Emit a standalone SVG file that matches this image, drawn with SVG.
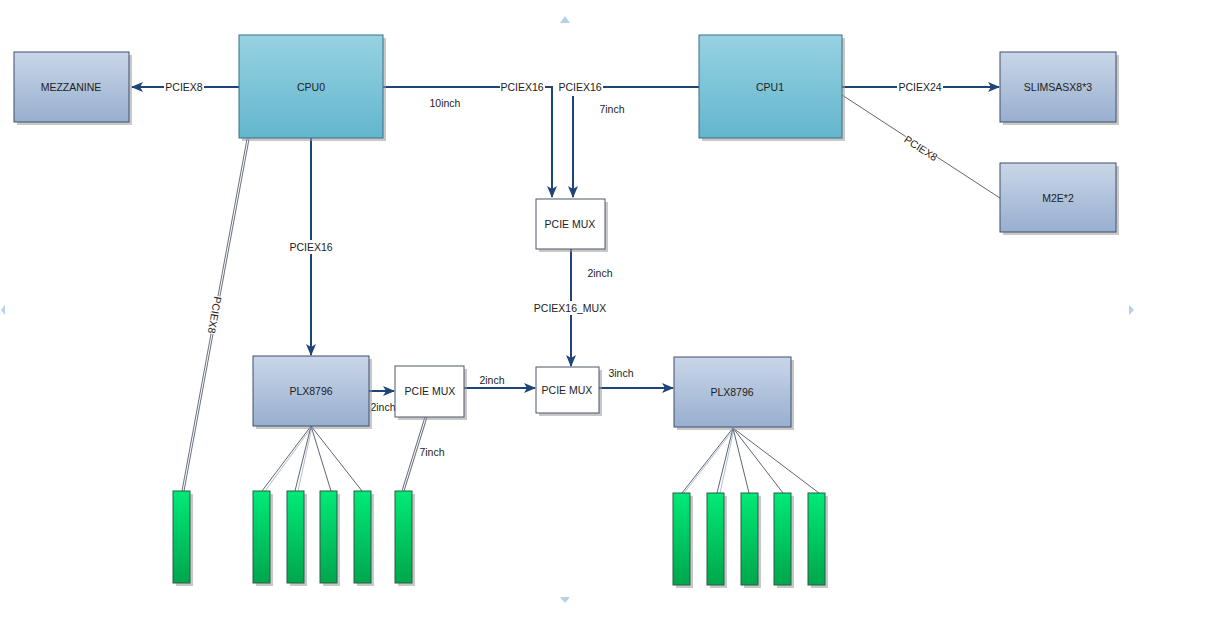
<svg xmlns="http://www.w3.org/2000/svg" width="1230" height="620" viewBox="0 0 1230 620">
<defs>
<linearGradient id="gCpu" x1="0" y1="0" x2="0" y2="1"><stop offset="0" stop-color="#97d2e2"/><stop offset="1" stop-color="#63b6cd"/></linearGradient>
<linearGradient id="gBox" x1="0" y1="0" x2="0" y2="1"><stop offset="0" stop-color="#c9d6e8"/><stop offset="1" stop-color="#98afcf"/></linearGradient>
<linearGradient id="gSlot" x1="0" y1="0" x2="0" y2="1"><stop offset="0" stop-color="#00ea78"/><stop offset="1" stop-color="#00a64c"/></linearGradient>
<marker id="arr" markerUnits="userSpaceOnUse" markerWidth="12" markerHeight="10" refX="11" refY="5" orient="auto"><path d="M0,0 L12,5 L0,10 L3,5 Z" fill="#1f4477"/></marker>
<style>
.cpu{fill:url(#gCpu);stroke:#3b6f86;stroke-width:1}
.box{fill:url(#gBox);stroke:#3e4f6c;stroke-width:1}
.mux{fill:#ffffff;stroke:#4a5567;stroke-width:1}
.slot{fill:url(#gSlot);stroke:#2d5a44;stroke-width:1}
.sh{fill:#9a9a9a;opacity:0.55}
.t{font-family:"Liberation Sans",Arial,sans-serif;font-size:10.5px;fill:#222;text-anchor:middle}
.c{fill:none;stroke:#1f4477;stroke-width:2}
.thin{fill:none;stroke:#5d6675;stroke-width:1}
.dbl{fill:none;stroke:#6b7380;stroke-width:3}
.dbli{fill:none;stroke:#ffffff;stroke-width:1}
.lite{fill:none;stroke:#b7bfca;stroke-width:1}
.bg{fill:#ffffff}
.mk{fill:#b4d0ea}
</style>
</defs>

<g id="page-markers">
<path class="mk" d="M560,23 L565,16 L570,23 Z"/>
<path class="mk" d="M560,597 L565,603 L570,597 Z"/>
<path class="mk" d="M5,305 L1,310 L5,315 Z"/>
<path class="mk" d="M1129,305 L1134,310 L1129,315 Z"/>
</g>

<g id="connectors">
<line class="c" x1="239" y1="87" x2="132" y2="87" marker-end="url(#arr)"/>
<path class="c" d="M383,87 H552 V197" marker-end="url(#arr)"/>
<path class="c" d="M699,87 H573 V197" marker-end="url(#arr)"/>
<line class="c" x1="311" y1="138" x2="311" y2="355" marker-end="url(#arr)"/>
<line class="c" x1="842" y1="87" x2="999" y2="87" marker-end="url(#arr)"/>
<line class="thin" x1="842" y1="95" x2="1003" y2="200"/>
<line class="c" x1="571" y1="249" x2="571" y2="366" marker-end="url(#arr)"/>
<line class="c" x1="369" y1="391" x2="394" y2="391" marker-end="url(#arr)"/>
<line class="c" x1="464" y1="388" x2="535" y2="388" marker-end="url(#arr)"/>
<line class="c" x1="599" y1="388" x2="673" y2="388" marker-end="url(#arr)"/>
<line class="dbl" x1="248" y1="139" x2="183" y2="491"/>
<line class="dbli" x1="248" y1="139" x2="183" y2="491"/>
<line class="dbl" x1="426" y1="417" x2="403" y2="491"/>
<line class="dbli" x1="426" y1="417" x2="403" y2="491"/>
<g>
<line class="lite" x1="312" y1="427" x2="265" y2="491"/>
<line class="thin" x1="311" y1="426" x2="262" y2="491"/>
<line class="lite" x1="312" y1="427" x2="298" y2="491"/>
<line class="thin" x1="311" y1="426" x2="295" y2="491"/>
<line class="thin" x1="311" y1="426" x2="331" y2="491"/>
<line class="thin" x1="311" y1="426" x2="362" y2="491"/>
<line class="lite" x1="734" y1="429" x2="684" y2="493"/>
<line class="thin" x1="733" y1="428" x2="682" y2="493"/>
<line class="lite" x1="734" y1="429" x2="720" y2="493"/>
<line class="thin" x1="733" y1="428" x2="717" y2="493"/>
<line class="thin" x1="733" y1="428" x2="749" y2="493"/>
<line class="thin" x1="733" y1="428" x2="783" y2="493"/>
<line class="thin" x1="733" y1="428" x2="819" y2="493"/>
</g>
<g id="connector-labels">
<rect class="bg" x="164" y="80" width="40" height="14"/>
<text class="t" x="184" y="91">PCIEX8</text>
<rect class="bg" x="500" y="80" width="45" height="14"/>
<text class="t" x="522" y="91">PCIEX16</text>
<rect class="bg" x="557" y="80" width="46" height="16"/>
<text class="t" x="580" y="91">PCIEX16</text>
<text class="t" x="445" y="107">10inch</text>
<text class="t" x="612" y="113">7inch</text>
<rect class="bg" x="288" y="240" width="46" height="14"/>
<text class="t" x="311" y="251">PCIEX16</text>
<rect class="bg" x="897" y="80" width="46" height="14"/>
<text class="t" x="920" y="91">PCIEX24</text>
<g transform="translate(921,148) rotate(33)">
<rect class="bg" x="-19" y="-6" width="38" height="12"/>
<text class="t" x="0" y="4">PCIEX8</text>
</g>
<g transform="translate(215,315) rotate(100)">
<rect class="bg" x="-19" y="-6" width="38" height="12"/>
<text class="t" x="0" y="4">PCIEX8</text>
</g>
<text class="t" x="600" y="277">2inch</text>
<rect class="bg" x="533" y="301" width="76" height="14"/>
<text class="t" x="570" y="312">PCIEX16_MUX</text>
<text class="t" x="383" y="411">2inch</text>
<text class="t" x="492" y="384">2inch</text>
<text class="t" x="621" y="377">3inch</text>
<text class="t" x="432" y="456">7inch</text>
</g>
</g>

<g id="CPU0"><rect class="sh" x="242" y="38" width="144" height="103"/><rect class="cpu" x="239" y="35" width="144" height="103"/><text class="t" x="311" y="91">CPU0</text></g>
<g id="CPU1"><rect class="sh" x="702" y="38" width="143" height="103"/><rect class="cpu" x="699" y="35" width="143" height="103"/><text class="t" x="770" y="91">CPU1</text></g>
<g id="MEZZANINE"><rect class="sh" x="17" y="55" width="115" height="70"/><rect class="box" x="14" y="52" width="115" height="70"/><text class="t" x="71" y="91">MEZZANINE</text></g>
<g id="SLIMSAS"><rect class="sh" x="1003" y="55" width="116" height="70"/><rect class="box" x="1000" y="52" width="116" height="70"/><text class="t" x="1058" y="91">SLIMSASX8*3</text></g>
<g id="M2E"><rect class="sh" x="1003" y="166" width="116" height="69"/><rect class="box" x="1000" y="163" width="116" height="69"/><text class="t" x="1058" y="202">M2E*2</text></g>
<g id="MUX-top"><rect class="sh" x="539" y="202" width="69" height="50"/><rect class="mux" x="536" y="199" width="69" height="50"/><text class="t" x="570" y="228">PCIE MUX</text></g>
<g id="MUX-left"><rect class="sh" x="398" y="369" width="69" height="51"/><rect class="mux" x="395" y="366" width="69" height="51"/><text class="t" x="430" y="395">PCIE MUX</text></g>
<g id="MUX-right"><rect class="sh" x="539" y="370" width="63" height="46"/><rect class="mux" x="536" y="367" width="63" height="46"/><text class="t" x="567" y="394">PCIE MUX</text></g>
<g id="PLX-left"><rect class="sh" x="256" y="359" width="116" height="70"/><rect class="box" x="253" y="356" width="116" height="70"/><text class="t" x="311" y="395">PLX8796</text></g>
<g id="PLX-right"><rect class="sh" x="677" y="360" width="117" height="70"/><rect class="box" x="674" y="357" width="117" height="70"/><text class="t" x="732" y="396">PLX8796</text></g>

<g id="slots-left">
<rect class="sh" x="176" y="494" width="17" height="92"/><rect class="slot" x="173" y="491" width="17" height="92"/>
<rect class="sh" x="256" y="494" width="17" height="92"/><rect class="slot" x="253" y="491" width="17" height="92"/>
<rect class="sh" x="290" y="494" width="17" height="92"/><rect class="slot" x="287" y="491" width="17" height="92"/>
<rect class="sh" x="323" y="494" width="17" height="92"/><rect class="slot" x="320" y="491" width="17" height="92"/>
<rect class="sh" x="357" y="494" width="17" height="92"/><rect class="slot" x="354" y="491" width="17" height="92"/>
<rect class="sh" x="398" y="494" width="17" height="92"/><rect class="slot" x="395" y="491" width="17" height="92"/>
</g>
<g id="slots-right">
<rect class="sh" x="676" y="496" width="17" height="92"/><rect class="slot" x="673" y="493" width="17" height="92"/>
<rect class="sh" x="710" y="496" width="17" height="92"/><rect class="slot" x="707" y="493" width="17" height="92"/>
<rect class="sh" x="744" y="496" width="17" height="92"/><rect class="slot" x="741" y="493" width="17" height="92"/>
<rect class="sh" x="777" y="496" width="17" height="92"/><rect class="slot" x="774" y="493" width="17" height="92"/>
<rect class="sh" x="811" y="496" width="17" height="92"/><rect class="slot" x="808" y="493" width="17" height="92"/>
</g>
</svg>
